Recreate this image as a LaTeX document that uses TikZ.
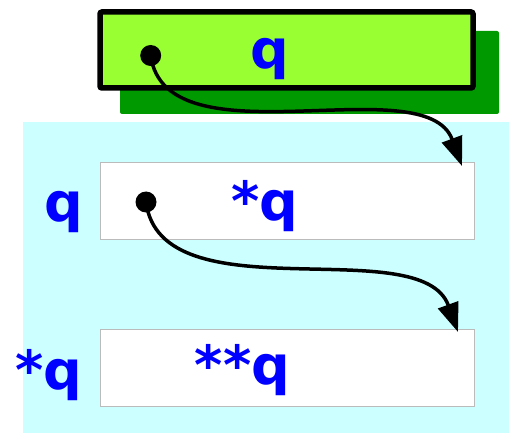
\documentclass[tikz,border=0pt]{standalone}
\usepackage{fontspec}
\setmainfont{DejaVu Sans}
\usetikzlibrary{arrows.meta}
\definecolor{boxgreen}{HTML}{99FF33}
\definecolor{shadowgreen}{HTML}{009900}
\definecolor{cyanbg}{HTML}{CCFFFF}
\definecolor{boxgray}{HTML}{BBBBBB}
\definecolor{txtblue}{HTML}{0000FF}
\tikzset{
  lbl/.style={text=txtblue, font=\fontsize{54}{60}\selectfont\bfseries, inner sep=0pt, anchor=base},
  cell/.style={draw=boxgray, fill=white, line width=1pt, minimum width=374pt, minimum height=77pt, inner sep=0pt},
  ptrdot/.style={circle, fill=black, inner sep=0pt, minimum size=21pt},
  arr/.style={line width=3.5pt, -{Triangle[length=29pt,width=21pt]}}
}
\begin{document}
\begin{tikzpicture}[x=1pt,y=1pt]
\useasboundingbox (0,0) rectangle (509,-433);
% cyan background
\fill[cyanbg] (23,-122) rectangle (509,-433);
% shadow and pointer box
\node[fill=shadowgreen, rounded corners=2pt, minimum width=379pt, minimum height=83pt, inner sep=0pt] (shadow) at (309.5,-72.5) {};
\node[draw=black, fill=boxgreen, line width=5.5pt, rounded corners=2pt, minimum width=373pt, minimum height=76pt, inner sep=0pt] (pbox) at (286.5,-50) {};
\node[lbl] (pq) at (270,-69) {q};
% cells
\node[cell] (c1) at (287,-201) {};
\node[cell] (c2) at (287,-367.5) {};
\node[lbl] (c1t) at (265,-221) {*q};
\node[lbl] (c2t) at (242.5,-384) {**q};
\node[lbl] (l1) at (63.5,-222) {q};
\node[lbl] (l2) at (49,-389) {*q};
% pointers
\coordinate (t1) at (462,-166);
\coordinate (t2) at (458,-332);
\node[ptrdot] (d1) at (150.7,-55.5) {};
\node[ptrdot] (d2) at (146,-202) {};
\draw[arr] (d1.center) .. controls +(15,-110) and +(-37,100) .. (t1);
\draw[arr] (d2.center) .. controls +(15,-115) and +(-37,102) .. (t2);
\end{tikzpicture}
\end{document}
